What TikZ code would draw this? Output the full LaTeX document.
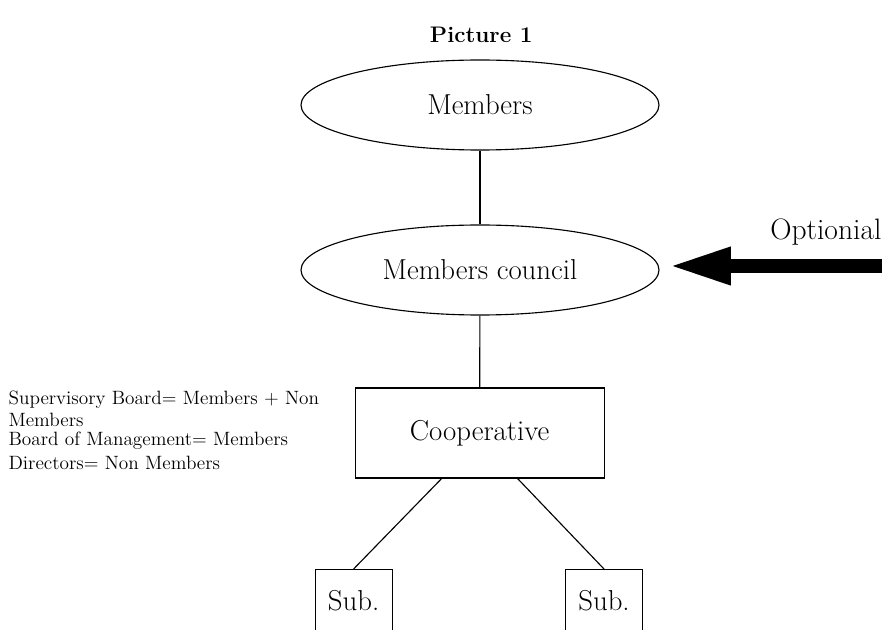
\documentclass[tikz,border=0pt]{standalone}
\usetikzlibrary{shapes.geometric,arrows.meta}
\begin{document}
\begin{tikzpicture}[x=1cm,y=1cm,line width=0.8pt,
  oval/.style={draw,ellipse,minimum width=8.95cm,minimum height=2.25cm,inner sep=0pt,font=\fontsize{20.5}{24}\selectfont},
  unit/.style={draw,rectangle,minimum width=6.225cm,minimum height=2.25cm,inner sep=0pt,font=\fontsize{20.5}{24}\selectfont},
  subbox/.style={draw,rectangle,anchor=north,minimum width=1.925cm,inner sep=0pt,text height=1.025cm,text depth=1.2cm,font=\fontsize{20.5}{24}\selectfont},
  note/.style={anchor=base west,align=left,inner sep=0pt,font=\fontsize{13.7}{15.8}\selectfont},
  bigarrow/.style={line width=0.36cm,-{Triangle[length=1.58cm,width=0.85cm]}}]
\useasboundingbox (0,0) rectangle (22.125,15.75);
\clip (0,0) rectangle (22.125,15.75);
% title
\node[font=\fontsize{16}{19}\selectfont\bfseries] (title) at (12.03,14.88) {Picture 1};
% ovals and the cooperative
\node[oval] (members) at (12,13.125) {Members};
\node[oval] (council) at (12,9) {Members council};
\node[unit] (coop) at (11.99,4.925) {Cooperative};
\node[subbox] (subl) at (8.84,1.525) {Sub.};
\node[subbox] (subr) at (15.1,1.525) {Sub.};
\draw (members) -- (council);
\draw (council) -- (coop);
\draw ([xshift=-0.95cm]coop.south) -- (subl.north);
\draw ([xshift=0.95cm]coop.south) -- (subr.north);
% optional council
\coordinate (optstart) at (22.05,9.1);
\draw[bigarrow,shorten >=0.2cm] (optstart) -- (council.east |- optstart);
\node[anchor=base east,inner sep=0pt,font=\fontsize{21}{24}\selectfont] (opt) at (22.05,9.75) {Optionial};
% boards
\node[note] (sup) at (0.2,5.075) {Supervisory Board= Members + Non\\Members};
\node[note] (mgmt) at (0.2,4.6) {Board of Management= Members};
\node[note] (dir) at (0.2,4.0) {Directors= Non Members};
\end{tikzpicture}
\end{document}
